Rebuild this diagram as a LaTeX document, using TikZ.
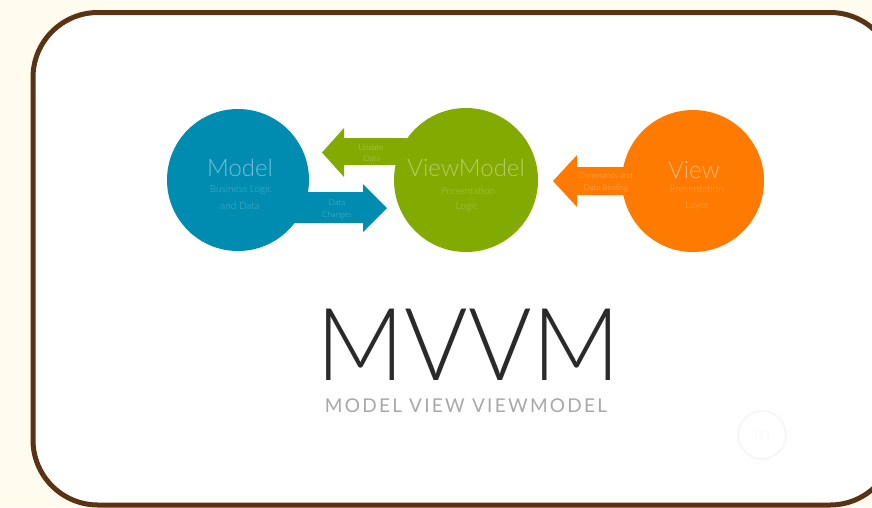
\documentclass[tikz,border=0pt]{standalone}
\usepackage{fontspec}
\setmainfont{Lato}
\newfontfamily\lightfont{Lato Light}
\newfontfamily\spacedfont[LetterSpace=12]{Lato}
\definecolor{bgcream}{HTML}{FFFBEE}
\definecolor{framebrown}{HTML}{5A3214}
\definecolor{mblue}{HTML}{008CB0}
\definecolor{vmgreen}{HTML}{82AA00}
\definecolor{vorange}{HTML}{FF7A00}
\definecolor{mvgray}{HTML}{2A2A2A}
\definecolor{subgray}{HTML}{A8A8A8}
\tikzset{
  circ/.style={circle, inner sep=0pt, minimum size=#1},
  ttl/.style={font=\lightfont\fontsize{24}{24}\selectfont, inner sep=0pt},
  sub/.style={font=\lightfont\fontsize{10}{10}\selectfont, inner sep=0pt},
  alab/.style={font=\lightfont\fontsize{8}{8}\selectfont, inner sep=0pt},
}
\begin{document}
\begin{tikzpicture}[x=1pt,y=-1pt]
\useasboundingbox (0,0) rectangle (872,507);
\fill[bgcream] (0,0) rectangle (872,507);
\begin{scope}
\clip (0,0) rectangle (872,507);
\draw[framebrown, line width=5pt, fill=white, rounded corners=65pt] (33,12.5) rectangle (895,505);
\end{scope}
% arrows
\fill[mblue] (290,192) -- (363,192) -- (363,184) -- (387,208) -- (363,232) -- (363,223) -- (290,223) -- cycle;
\fill[vmgreen] (420,138) -- (344,138) -- (344,128) -- (322,152.5) -- (344,177) -- (344,165) -- (420,165) -- cycle;
\fill[vorange] (640,167) -- (577,167) -- (577,155) -- (553,181) -- (577,207) -- (577,195) -- (640,195) -- cycle;
% circles
\node[circ=142pt, fill=mblue] (model) at (238,180) {};
\node[circ=144pt, fill=vmgreen] (vm) at (466,180) {};
\node[circ=142pt, fill=vorange] (view) at (693,181) {};
% circle texts
\node[ttl, text=mblue!55!white] (mt) at (240,168) {Model};
\node[sub, text=mblue!70!white] (ms1) at (241,190) {Business Logic};
\node[sub, text=mblue!70!white] (ms2) at (240,206) {and Data};
\node[ttl, text=vmgreen!60!white] (vt) at (466,168) {ViewModel};
\node[sub, text=vmgreen!70!white] (vs1) at (468,191) {Presentation};
\node[sub, text=vmgreen!70!white] (vs2) at (467,207) {Logic};
\node[ttl, text=vorange!55!white] (wt) at (694,170) {View};
\node[sub, text=vorange!70!white] (ws1) at (697,189) {Presentation};
\node[sub, text=vorange!70!white] (ws2) at (697,206) {Layer};
% arrow labels
\node[alab, text=mblue!65!white] (a1) at (337,203) {Data};
\node[alab, text=mblue!65!white] (a2) at (337,215) {Changes};
\node[alab, text=vmgreen!60!white] (g1) at (371,148) {Update};
\node[alab, text=vmgreen!60!white] (g2) at (372,159) {Data};
\node[alab, text=vorange!60!white] (o1) at (606,176) {Commands and};
\node[alab, text=vorange!60!white] (o2) at (606,188) {Data Binding};
% title
\node[font=\lightfont\fontsize{101}{101}\selectfont, text=mvgray, inner sep=0pt, anchor=base, text depth=0pt] (mvvm) at (468.5,380) {\scalebox{0.96}[1]{MVVM}};
\node[font=\spacedfont\fontsize{19}{19}\selectfont, text=subgray, inner sep=0pt, anchor=base, text height=13pt] (sub) at (466,412) {MODEL VIEW VIEWMODEL};
% watermark
\node[circle, draw=black!3, line width=2pt, minimum size=48pt, inner sep=0pt, text=black!3, font=\lightfont\fontsize{20}{20}\selectfont] (wm) at (762,435) {m};
\end{tikzpicture}
\end{document}
